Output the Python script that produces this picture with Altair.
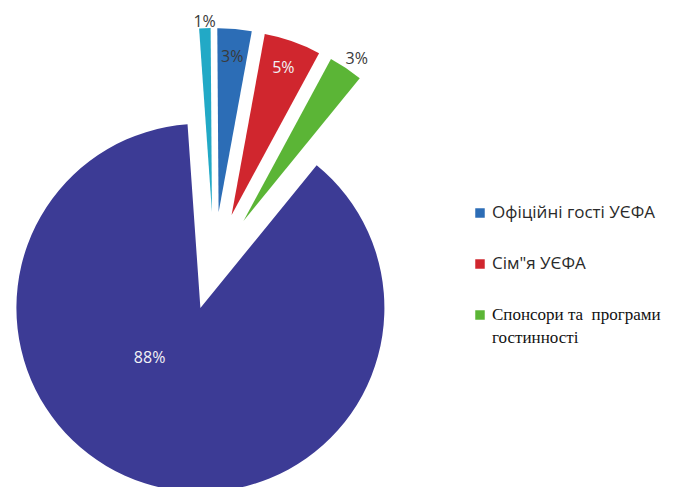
import math
import altair as alt
import pandas as pd

# ---- data ----
categories = ["ЗМІ", "Офіційні гості УЄФА", 'Сім"я УЄФА',
              "Спонсори та  програми гостинності", "Вболівальники"]
values = [1, 3, 5, 3, 88]
labels = ["1%", "3%", "5%", "3%", "88%"]
legend_items = ["Офіційні гості УЄФА", 'Сім"я УЄФА', "Спонсори та  програми гостинності"]
legend_text = ["Офіційні гості УЄФА", 'Сім"я УЄФА', "Спонсори та\u00a0 програми\nгостинності"]
legend_serif = [False, False, True]

# ---- style ----
colors = ["#22a9c6", "#2c6db6", "#d0262e", "#5bb536", "#3c3b95"]
CX, CY = 214, 265          # pie origin (px)
R = 184                    # outer radius
ROT = -0.07                # start rotation (radians)
EXPLODE_BIG, EXPLODE_SMALL = 45, 53
LEG_X, LEG_TOP, LEG_BOTTOM = 480, 213, 315

df = pd.DataFrame({"cat": categories, "pct": values, "lab": labels, "order": range(len(values))})
leg_df = pd.DataFrame({"cat": legend_items, "text": legend_text, "serif": legend_serif})

two_pi = 2 * math.pi
theta_scale = alt.Scale(domain=[0, 100], range=[ROT, ROT + two_pi])
color_scale = alt.Scale(domain=categories, range=colors)

base = alt.Chart(df).transform_window(
    end="sum(pct)", sort=[alt.SortField("order")], frame=[None, 0]
).transform_calculate(
    start="datum.end - datum.pct",
    midp="(datum.start + datum.end) / 2",
).transform_calculate(
    mid=f"datum.midp / 100 * {two_pi} + ({ROT})",
    explode=f"datum.pct > 50 ? {EXPLODE_BIG} : {EXPLODE_SMALL}",
).transform_calculate(
    cx=f"{CX} + datum.explode * sin(datum.mid)",
    cy=f"{CY} - datum.explode * cos(datum.mid)",
    labr="datum.pct > 50 ? 71 : (datum.order == 0 ? 190 : (datum.order == 3 ? 198 : 156))",
    labp="datum.pct > 50 ? datum.midp + 7.8 : (datum.order == 3 ? datum.midp + 0.3 : datum.midp)",
    labc="(datum.order == 2 || datum.order == 4) ? '#f2f2f6' : '#3a3a3a'",
)

arcs = base.mark_arc(outerRadius=R, stroke=None).encode(
    x=alt.X("cx:Q", scale=None),
    y=alt.Y("cy:Q", scale=None),
    theta=alt.Theta("start:Q", stack=None, scale=theta_scale),
    theta2="end:Q",
    color=alt.Color("cat:N", scale=color_scale, legend=None),
    order=alt.Order("order:Q"),
)

texts = base.mark_text(font="Open Sans", fontSize=16, align="center", baseline="middle").encode(
    x=alt.X("cx:Q", scale=None),
    y=alt.Y("cy:Q", scale=None),
    theta=alt.Theta("labp:Q", stack=None, scale=theta_scale),
    radius=alt.Radius("labr:Q", scale=None),
    text="lab:N",
    color=alt.Color("labc:N", scale=None, legend=None),
)

# ---- legend (drawn from the legend arrays) ----
leg_y = alt.Y("cat:N", axis=None,
              scale=alt.Scale(type="point", domain=legend_items, range=[LEG_TOP, LEG_BOTTOM], padding=0))
leg_base = alt.Chart(leg_df)
leg_sq = leg_base.mark_square(size=90, opacity=1).encode(
    x=alt.value(LEG_X), y=leg_y,
    color=alt.Color("cat:N", scale=color_scale, legend=None),
)
leg_sans = leg_base.transform_filter("!datum.serif").mark_text(
    font="Open Sans", fontSize=17, align="left", baseline="middle", color="#2a2a2a"
).encode(x=alt.value(LEG_X + 12), y=leg_y, text="text:N")
leg_serif = leg_base.transform_filter("datum.serif").mark_text(
    font="Liberation Serif", fontSize=17, align="left", baseline="middle", color="#111111",
    lineBreak="\n", lineHeight=23,
).encode(x=alt.value(LEG_X + 12), y=leg_y, text="text:N")

chart = alt.layer(arcs, texts, leg_sq, leg_sans, leg_serif).resolve_scale(
    color="independent", y="independent"
).properties(
    width=677, height=487, padding=0, autosize="none",
    background="white",
).configure_view(stroke=None)

chart.save("out.html", embed_options={"renderer": "svg", "actions": False})
